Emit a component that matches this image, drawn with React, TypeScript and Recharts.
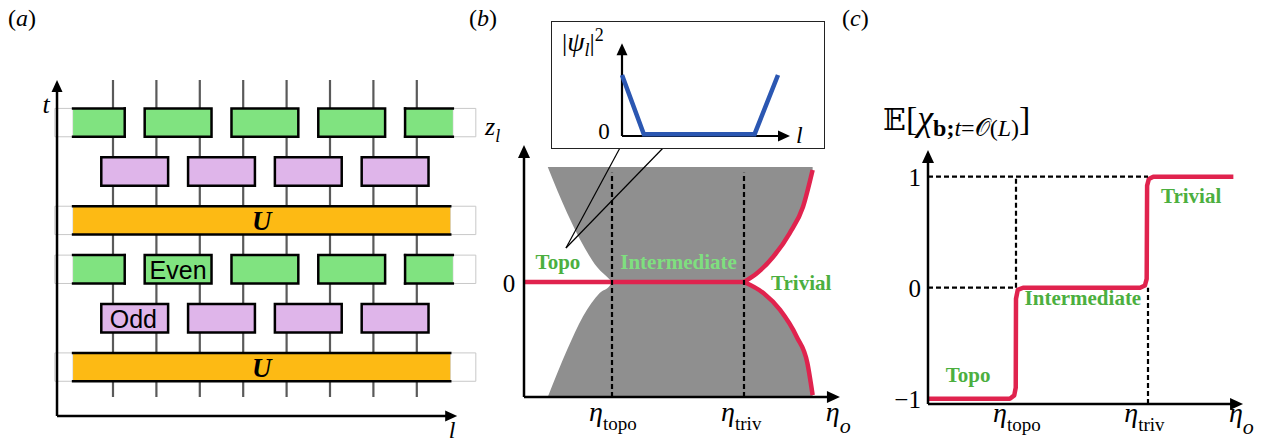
import React from "react";
import {
  Area,
  ComposedChart,
  Line,
  ReferenceArea,
  ReferenceDot,
  ReferenceLine,
  XAxis,
  YAxis,
} from "recharts";

// ---------- panel (a): brickwork circuit (l = site, t = layer) ----------
const sites = [1, 2, 3, 4, 5, 6, 7, 8];
const evenGateCenters = [0.5, 2.5, 4.5, 6.5, 8.5];
const oddGateCenters = [1.5, 3.5, 5.5, 7.5];
const evenLayers = [6, 3];
const oddLayers = [5, 2];
const uLayers = [4, 1];
const gateHalfWidth = 0.77;
const gateHalfHeight = 0.29;
const chainEdges = [0.08, 8.83];
const uEdges = [0.08, 8.77];
const ghostEdges = [-0.34, 9.36];
const wireTimes = [0.39, 6.87];

// ---------- panel (b): spectrum z_l vs eta_o ----------
const etaTopo = 1.0;
const etaTriv = 2.5;
const gapUpperEta = [0.27, 0.49, 0.64, 0.83, 0.98, 1.0];
const gapUpperZ = [1, 0.6, 0.365, 0.13, 0.017, 0];
const gapLowerEta = [0.27, 0.49, 0.67, 0.86, 0.98, 1.0];
const gapLowerZ = [-1, -0.59, -0.3, -0.096, -0.026, 0];
const edgeUpperEta = [2.5, 2.65, 2.83, 3.02, 3.17, 3.28];
const edgeUpperZ = [0, 0.078, 0.217, 0.426, 0.652, 0.974];
const edgeLowerEta = [2.5, 2.72, 2.91, 3.1, 3.22, 3.28];
const edgeLowerZ = [0, -0.096, -0.243, -0.478, -0.704, -0.983];
const bandZ = [-1, 1];

// inset: |psi_l|^2 vs l
const psiSites = [0, 1.4, 8.5, 10];
const psiWeight = [1, 0.03, 0.03, 1];

// ---------- panel (c): E[chi] vs eta_o ----------
const stepEta = [0, 0.93, 0.98, 0.997, 1.0, 1.02, 1.08, 2.41, 2.465, 2.485, 2.49, 2.51, 2.56, 3.47];
const stepChi = [-1, -1, -0.97, -0.9, -0.1, -0.02, 0, 0, 0.02, 0.08, 0.92, 0.98, 1, 1];
const chiTicks = [-1, 0, 1];

const SERIF = "'Liberation Serif', 'Times New Roman', serif";
const SANS = "'Liberation Sans', Arial, sans-serif";
const MATH = "'Liberation Serif', 'DejaVu Serif', 'DejaVu Sans', serif";

const GREEN_BOX = "#80e380";
const PURPLE_BOX = "#dfb5ea";
const ORANGE_BOX = "#fdba14";
const GRAY = "#8f8f8f";
const RED = "#e0234e";
const BLUE = "#2b57b2";
const LABEL_GREEN = "#4caf3f";
const LIGHT_GREEN = "#7fdf7f";

type Frame = {
  left: number;
  top: number;
  width: number;
  height: number;
  ox: number;
  oy: number;
  sx: number;
  sy: number;
};

const frameA: Frame = { left: 0, top: 0, width: 480, height: 442, ox: 69.6, oy: 416, sx: 43.4, sy: 48.9 };
const frameB: Frame = { left: 470, top: 100, width: 400, height: 342, ox: 524, oy: 282, sx: 88, sy: 115 };
const frameInset: Frame = { left: 551, top: 21, width: 274, height: 128, ox: 622, oy: 136, sx: 15.6, sy: 61 };
const frameC: Frame = { left: 866, top: 90, width: 400, height: 352, ox: 928, oy: 287.7, sx: 88, sy: 111 };

const Plot = ({ f, children }: { f: Frame; children: React.ReactNode }) => {
  const xDomain = [(f.left - f.ox) / f.sx, (f.left + f.width - f.ox) / f.sx];
  const yDomain = [(f.oy - f.top - f.height) / f.sy, (f.oy - f.top) / f.sy];
  return (
    <div style={{ position: "absolute", left: f.left, top: f.top, width: f.width, height: f.height }}>
      <ComposedChart width={f.width} height={f.height} margin={{ top: 0, right: 0, bottom: 0, left: 0 }}>
        <XAxis type="number" dataKey="x" domain={xDomain} allowDataOverflow hide />
        <YAxis type="number" domain={yDomain} allowDataOverflow hide />
        {children}
      </ComposedChart>
    </div>
  );
};

const pts = (xs: number[], ys: number[]) => xs.map((x, i) => ({ x, y: ys[i] }));

const seg = (key: string, x1: number, y1: number, x2: number, y2: number, p: any) => (
  <ReferenceLine
    key={key}
    segment={[{ x: x1, y: y1 }, { x: x2, y: y2 }]}
    ifOverflow="visible"
    {...p}
  />
);

const mark = (key: string, x: number, y: number, node: React.ReactNode, z = 2000) => (
  <ReferenceDot
    key={key}
    x={x}
    y={y}
    r={0}
    ifOverflow="visible"
    zIndex={z}
    shape={(p: any) => <g transform={`translate(${p.cx},${p.cy})`}>{node}</g>}
  />
);

const arrowUp = (len = 13, half = 6) => (
  <polygon points={`0,0 ${-half},${len} ${half},${len}`} fill="#000" />
);
const arrowRight = (len = 13, half = 6) => (
  <polygon points={`0,0 ${-len},${-half} ${-len},${half}`} fill="#000" />
);

const greenLabel = (text: string, color: string) => (
  <text
    x={0}
    y={0}
    textAnchor="middle"
    dominantBaseline="central"
    fontFamily={SERIF}
    fontWeight="bold"
    fontSize={21}
    fill={color}
  >
    {text}
  </text>
);

const etaLabel = (sub: string, italicSub = false) => (
  <text x={0} y={0} fontFamily={SERIF} fontSize={28} fill="#000">
    <tspan fontStyle="italic">η</tspan>
    <tspan
      fontSize={italicSub ? 22 : 19}
      fontStyle={italicSub ? "italic" : "normal"}
      dy={italicSub ? 12 : 9}
    >
      {sub}
    </tspan>
  </text>
);

// ---------- gates of panel (a) ----------
type Gate = { x1: number; x2: number; t: number; fill: string; openL: boolean; openR: boolean };
const gates: Gate[] = [];
evenLayers.forEach((t) =>
  evenGateCenters.forEach((c) =>
    gates.push({
      x1: Math.max(c - gateHalfWidth, chainEdges[0]),
      x2: Math.min(c + gateHalfWidth, chainEdges[1]),
      t,
      fill: GREEN_BOX,
      openL: c - gateHalfWidth < chainEdges[0],
      openR: c + gateHalfWidth > chainEdges[1],
    })
  )
);
oddLayers.forEach((t) =>
  oddGateCenters.forEach((c) =>
    gates.push({ x1: c - gateHalfWidth, x2: c + gateHalfWidth, t, fill: PURPLE_BOX, openL: false, openR: false })
  )
);

const border = { stroke: "#000", strokeWidth: 2.5, strokeLinecap: "square", zIndex: 140 };

const renderGate = (g: Gate, i: number) => {
  const y1 = g.t - gateHalfHeight;
  const y2 = g.t + gateHalfHeight;
  if (!g.openL && !g.openR) {
    return [
      <ReferenceArea
        key={`gate${i}`}
        x1={g.x1}
        x2={g.x2}
        y1={y1}
        y2={y2}
        fill={g.fill}
        fillOpacity={1}
        stroke="#000"
        strokeWidth={2.5}
        ifOverflow="visible"
        zIndex={130}
      />,
    ];
  }
  const out = [
    <ReferenceArea
      key={`gate${i}`}
      x1={g.x1}
      x2={g.x2}
      y1={y1}
      y2={y2}
      fill={g.fill}
      fillOpacity={1}
      stroke="none"
      ifOverflow="visible"
      zIndex={130}
    />,
    seg(`gt${i}`, g.x1, y2, g.x2, y2, border),
    seg(`gb${i}`, g.x1, y1, g.x2, y1, border),
  ];
  if (!g.openL) out.push(seg(`gl${i}`, g.x1, y1, g.x1, y2, border));
  if (!g.openR) out.push(seg(`gr${i}`, g.x2, y1, g.x2, y2, border));
  return out;
};

const ghostRows = [...evenLayers, ...uLayers];

const upperBand = [
  ...gapUpperEta.map((x, i) => ({ x, band: [gapUpperZ[i], bandZ[1]] })),
  ...edgeUpperEta.map((x, i) => ({ x, band: [edgeUpperZ[i], bandZ[1]] })),
];
const lowerBand = [
  ...gapLowerEta.map((x, i) => ({ x, band: [bandZ[0], gapLowerZ[i]] })),
  ...edgeLowerEta.map((x, i) => ({ x, band: [bandZ[0], edgeLowerZ[i]] })),
];

const axisLine = { stroke: "#000", strokeWidth: 2.5, zIndex: 500 };
const dashed = { stroke: "#000", strokeWidth: 2.2, strokeDasharray: "5 3", zIndex: 450 };

const panelLetter = (letter: string, left: number) => (
  <span
    style={{
      position: "absolute",
      left,
      top: 4,
      fontFamily: SERIF,
      fontSize: 24,
      lineHeight: "28px",
      color: "#000",
    }}
  >
    (<i>{letter}</i>)
  </span>
);

export default function App() {
  return (
    <div style={{ position: "absolute", left: 0, top: 0, width: 1266, height: 442, background: "#fff", overflow: "hidden" }}>
      {panelLetter("a", 8)}
      {panelLetter("b", 469)}
      {panelLetter("c", 842)}

      {/* (a) circuit */}
      <Plot f={frameA}>
        {sites.map((l) => seg(`w${l}`, l, wireTimes[0], l, wireTimes[1], { stroke: "#5a5a5a", strokeWidth: 2.2, zIndex: 110 }))}
        {ghostRows.map((t) => (
          <ReferenceArea
            key={`ghl${t}`}
            x1={ghostEdges[0]}
            x2={chainEdges[0]}
            y1={t - gateHalfHeight}
            y2={t + gateHalfHeight}
            fill="none"
            stroke="#c8c8c8"
            strokeWidth={1}
            ifOverflow="visible"
            zIndex={120}
          />
        ))}
        {ghostRows.map((t) => (
          <ReferenceArea
            key={`ghr${t}`}
            x1={uLayers.includes(t) ? uEdges[1] : chainEdges[1]}
            x2={ghostEdges[1]}
            y1={t - gateHalfHeight}
            y2={t + gateHalfHeight}
            fill="none"
            stroke="#c8c8c8"
            strokeWidth={1}
            ifOverflow="visible"
            zIndex={120}
          />
        ))}
        {gates.flatMap(renderGate)}
        {uLayers.flatMap((t) => [
          <ReferenceArea
            key={`u${t}`}
            x1={uEdges[0]}
            x2={uEdges[1]}
            y1={t - gateHalfHeight}
            y2={t + gateHalfHeight}
            fill={ORANGE_BOX}
            fillOpacity={1}
            stroke="none"
            ifOverflow="visible"
            zIndex={130}
          />,
          seg(`ut${t}`, uEdges[0], t + gateHalfHeight, uEdges[1], t + gateHalfHeight, border),
          seg(`ub${t}`, uEdges[0], t - gateHalfHeight, uEdges[1], t - gateHalfHeight, border),
          mark(
            `uL${t}`,
            (uEdges[0] + uEdges[1]) / 2,
            t,
            <text x={0} y={1} textAnchor="middle" dominantBaseline="central" fontFamily={SERIF} fontStyle="italic" fontWeight="bold" fontSize={27} fill="#000">
              U
            </text>
          ),
        ])}
        {mark(
          "even",
          evenGateCenters[1],
          evenLayers[1],
          <text x={0} y={1} textAnchor="middle" dominantBaseline="central" fontFamily={SANS} fontSize={25} fill="#000">
            Even
          </text>
        )}
        {mark(
          "odd",
          oddGateCenters[0] - 0.03,
          oddLayers[1],
          <text x={0} y={1} textAnchor="middle" dominantBaseline="central" fontFamily={SANS} fontSize={25} fill="#000">
            Odd
          </text>
        )}
        {seg("ta", -0.29, 0, -0.29, 6.7, axisLine)}
        {seg("la", -0.29, 0, 8.8, 0, axisLine)}
        {mark("tah", -0.29, 6.87, arrowUp(12, 5.5), 600)}
        {mark("lah", 8.93, 0, arrowRight(12, 5.5), 600)}
        {mark(
          "tlab",
          -0.544,
          6.36,
          <text x={0} y={0} textAnchor="middle" dominantBaseline="central" fontFamily={SERIF} fontStyle="italic" fontSize={26} fill="#000">
            t
          </text>
        )}
        {mark(
          "llab",
          8.81,
          -0.29,
          <text x={0} y={0} textAnchor="middle" dominantBaseline="central" fontFamily={SERIF} fontStyle="italic" fontSize={24} fill="#000">
            l
          </text>
        )}
      </Plot>

      {/* (b) spectrum */}
      <Plot f={frameB}>
        <Area data={upperBand} dataKey="band" type="monotone" fill={GRAY} fillOpacity={1} stroke="none" isAnimationActive={false} zIndex={100} />
        <Area data={lowerBand} dataKey="band" type="monotone" fill={GRAY} fillOpacity={1} stroke="none" isAnimationActive={false} zIndex={100} />
        <Line data={pts([0, etaTriv], [0, 0])} dataKey="y" type="linear" stroke={RED} strokeWidth={4.5} dot={false} activeDot={false} isAnimationActive={false} zIndex={400} />
        <Line data={pts(edgeUpperEta, edgeUpperZ)} dataKey="y" type="monotone" stroke={RED} strokeWidth={4.5} dot={false} activeDot={false} isAnimationActive={false} zIndex={400} />
        <Line data={pts(edgeLowerEta, edgeLowerZ)} dataKey="y" type="monotone" stroke={RED} strokeWidth={4.5} dot={false} activeDot={false} isAnimationActive={false} zIndex={400} />
        {seg("dt", etaTopo, -1, etaTopo, 0.95, dashed)}
        {seg("dv", etaTriv, -1, etaTriv, 0.95, dashed)}
        {seg("c1", 0.477, 0.296, 1.09, 1.165, { stroke: "#000", strokeWidth: 1.2, zIndex: 460 })}
        {seg("c2", 0.477, 0.296, 1.58, 1.165, { stroke: "#000", strokeWidth: 1.2, zIndex: 460 })}
        {seg("bza", 0, -1, 0, 1.1, axisLine)}
        {seg("bea", 0, -1, 3.5, -1, axisLine)}
        {mark("bzh", 0, 1.191, arrowUp(), 600)}
        {mark("beh", 3.59, -1, arrowRight(), 600)}
        {mark("topoB", 0.386, 0.174, greenLabel("Topo", LABEL_GREEN))}
        {mark("intB", 1.756, 0.174, greenLabel("Intermediate", LIGHT_GREEN))}
        {mark("trivB", 3.15, -0.009, greenLabel("Trivial", LABEL_GREEN))}
        {mark(
          "zero",
          -0.17,
          0,
          <text x={0} y={1} textAnchor="middle" dominantBaseline="central" fontFamily={SERIF} fontSize={25} fill="#000">
            0
          </text>
        )}
        {mark(
          "zl",
          -0.443,
          1.278,
          <text x={0} y={0} fontFamily={SERIF} fontSize={26} fill="#000">
            <tspan fontStyle="italic">z</tspan>
            <tspan fontStyle="italic" fontSize={18} dy={7}>
              l
            </tspan>
          </text>
        )}
        {mark("etaTopoB", 0.739, -1.209, etaLabel("topo"))}
        {mark("etaTrivB", 2.24, -1.209, etaLabel("triv"))}
        {mark("etaOB", 3.43, -1.209, etaLabel("o", true))}
      </Plot>

      {/* (b) inset */}
      <div
        style={{
          position: "absolute",
          left: frameInset.left,
          top: frameInset.top,
          width: frameInset.width,
          height: frameInset.height,
          background: "#fff",
          border: "1px solid #222",
          boxSizing: "border-box",
        }}
      />
      <Plot f={frameInset}>
        {seg("iva", 0, 0, 0, 1.4, { stroke: "#000", strokeWidth: 2.2, zIndex: 300 })}
        {seg("iha", 0, 0, 10.6, 0, { stroke: "#000", strokeWidth: 2.2, zIndex: 300 })}
        <Line data={pts(psiSites, psiWeight)} dataKey="y" type="linear" stroke={BLUE} strokeWidth={4.5} dot={false} activeDot={false} isAnimationActive={false} zIndex={400} />
        {mark("ivh", 0, 1.52, arrowUp(12, 5.5), 600)}
        {mark("ihh", 10.77, 0, arrowRight(12, 5.5), 600)}
        {mark(
          "i0",
          -1.154,
          0.098,
          <text x={0} y={1} textAnchor="middle" dominantBaseline="central" fontFamily={SERIF} fontSize={23} fill="#000">
            0
          </text>
        )}
        {mark(
          "il",
          11.15,
          -0.115,
          <text x={0} y={0} fontFamily={SERIF} fontStyle="italic" fontSize={24} fill="#000">
            l
          </text>
        )}
        {mark(
          "ipsi",
          -3.85,
          1.393,
          <text x={0} y={0} fontFamily={SERIF} fontSize={26} fill="#000">
            <tspan>|</tspan>
            <tspan fontStyle="italic" fontSize={28}>ψ</tspan>
            <tspan fontStyle="italic" fontSize={18} dy={5}>
              l
            </tspan>
            <tspan dy={-5}>|</tspan>
            <tspan fontSize={18} dy={-10}>
              2
            </tspan>
          </text>
        )}
      </Plot>

      {/* (c) step */}
      <Plot f={frameC}>
        {seg("h1", 0, 1, 2.5, 1, dashed)}
        {seg("v1", etaTopo, 0, etaTopo, 1, dashed)}
        {seg("h0", 0, 0, etaTopo, 0, dashed)}
        {seg("v0", etaTriv, -1.048, etaTriv, 0, dashed)}
        <Line data={pts(stepEta, stepChi)} dataKey="y" type="linear" stroke={RED} strokeWidth={4.5} strokeLinejoin="round" dot={false} activeDot={false} isAnimationActive={false} zIndex={400} />
        {seg("cya", 0, -1.048, 0, 1.15, axisLine)}
        {seg("cxa", 0, -1.048, 3.5, -1.048, axisLine)}
        {mark("cyh", 0, 1.24, arrowUp(), 600)}
        {mark("cxh", 3.58, -1.048, arrowRight(), 600)}
        {chiTicks.map((v) =>
          mark(
            `ct${v}`,
            -0.08,
            v,
            <text x={0} y={1} textAnchor="end" dominantBaseline="central" fontFamily={SERIF} fontSize={25} fill="#000">
              {v < 0 ? `\u2212${-v}` : `${v}`}
            </text>
          )
        )}
        {mark("trivC", 2.99, 0.826, greenLabel("Trivial", LABEL_GREEN))}
        {mark("intC", 1.76, -0.093, greenLabel("Intermediate", LABEL_GREEN))}
        {mark("topoC", 0.455, -0.79, greenLabel("Topo", LABEL_GREEN))}
        {mark("etaTopoC", 0.739, -1.21, etaLabel("topo"))}
        {mark("etaTrivC", 2.23, -1.21, etaLabel("triv"))}
        {mark("etaOC", 3.42, -1.21, etaLabel("o", true))}
        {mark(
          "ylabC",
          -0.511,
          1.421,
          <text x={0} y={0} fontFamily={MATH} fontSize={30} fill="#000">
            <tspan>𝔼</tspan>
            <tspan fontSize={34}>[</tspan>
            <tspan fontStyle="italic" fontSize={36}>χ</tspan>
            <tspan fontSize={24} dy={6} fontWeight="bold">
              b
            </tspan>
            <tspan fontSize={24} fontWeight="bold">;</tspan>
            <tspan fontSize={24} fontStyle="italic">
              t
            </tspan>
            <tspan fontSize={24}>=</tspan>
            <tspan fontSize={24}>𝒪</tspan>
            <tspan fontSize={24}>(</tspan>
            <tspan fontSize={24} fontStyle="italic">
              L
            </tspan>
            <tspan fontSize={24}>)</tspan>
            <tspan fontSize={34} dy={-6}>]</tspan>
          </text>
        )}
      </Plot>
    </div>
  );
}
